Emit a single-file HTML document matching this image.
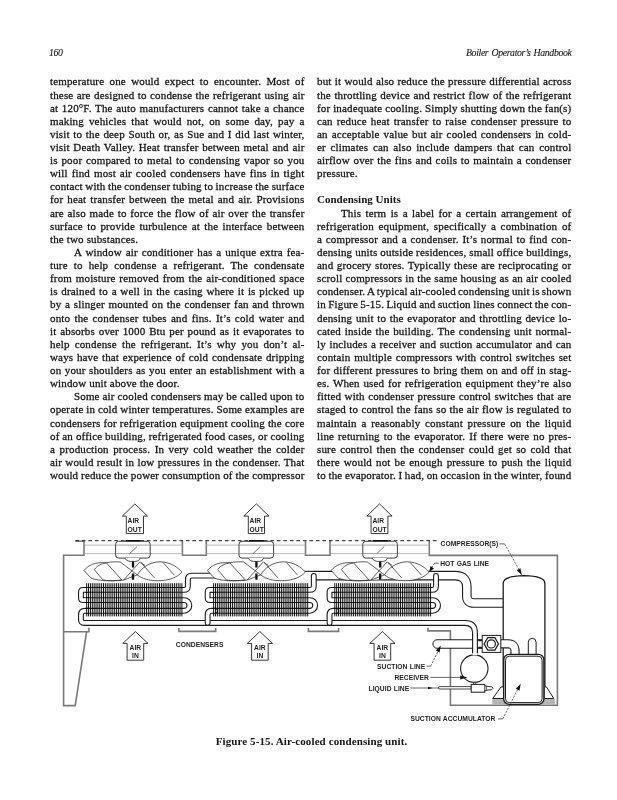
<!DOCTYPE html>
<html><head><meta charset="utf-8"><title>Boiler Operator's Handbook - 160</title>
<style>
html,body{margin:0;padding:0;background:#fff;}
body{width:617px;height:800px;position:relative;overflow:hidden;font-family:"Liberation Serif",serif;color:#151515;-webkit-text-stroke:0.28px #151515;}
.col,.hd,.cap{will-change:transform;}
.col{position:absolute;top:0;height:500px;font-size:11.0px;line-height:13.12px;letter-spacing:0.15px;}
.l{position:absolute;left:0;right:0;height:13.12px;white-space:nowrap;}
.l.b{font-weight:bold;letter-spacing:0.02px;-webkit-text-stroke:0;}
.l.i{padding-left:24px;}
.hd{position:absolute;top:46.6px;font-size:9.8px;letter-spacing:-0.36px;word-spacing:1px;-webkit-text-stroke:0.1px #151515;font-style:italic;line-height:12px;white-space:nowrap;}
.cap{position:absolute;left:2.8px;width:617px;top:735px;text-align:center;font-weight:bold;font-size:11px;letter-spacing:0.1px;-webkit-text-stroke:0;line-height:13px;white-space:nowrap;}
svg{position:absolute;left:0;top:0;}
</style></head><body>
<div class="hd" style="left:49px">160</div>
<div class="hd" style="right:46px">Boiler Operator’s Handbook</div>
<div class="col" style="left:49.7px;width:254.3px"><div class="l" style="top:75.40px;word-spacing:2.462px">temperature one would expect to encounter. Most of</div>
<div class="l" style="top:88.52px;word-spacing:0.517px">these are designed to condense the refrigerant using air</div>
<div class="l" style="top:101.64px;word-spacing:0.732px">at 120°F. The auto manufacturers cannot take a chance</div>
<div class="l" style="top:114.76px;word-spacing:2.161px">making vehicles that would not, on some day, pay a</div>
<div class="l" style="top:127.88px;word-spacing:0.758px">visit to the deep South or, as Sue and I did last winter,</div>
<div class="l" style="top:141.00px;word-spacing:0.765px">visit Death Valley. Heat transfer between metal and air</div>
<div class="l" style="top:154.12px;word-spacing:0.895px">is poor compared to metal to condensing vapor so you</div>
<div class="l" style="top:167.24px;word-spacing:1.048px">will find most air cooled condensers have fins in tight</div>
<div class="l" style="top:180.36px;word-spacing:-0.418px">contact with the condenser tubing to increase the surface</div>
<div class="l" style="top:193.48px;word-spacing:1.107px">for heat transfer between the metal and air. Provisions</div>
<div class="l" style="top:206.60px;word-spacing:0.794px">are also made to force the flow of air over the transfer</div>
<div class="l" style="top:219.72px;word-spacing:1.466px">surface to provide turbulence at the interface between</div>
<div class="l e" style="top:232.84px">the two substances.</div>
<div class="l i" style="top:245.96px;word-spacing:1.025px">A window air conditioner has a unique extra fea-</div>
<div class="l" style="top:259.08px;word-spacing:3.171px">ture to help condense a refrigerant. The condensate</div>
<div class="l" style="top:272.20px;word-spacing:0.927px">from moisture removed from the air-conditioned space</div>
<div class="l" style="top:285.32px;word-spacing:0.801px">is drained to a well in the casing where it is picked up</div>
<div class="l" style="top:298.44px;word-spacing:0.828px">by a slinger mounted on the condenser fan and thrown</div>
<div class="l" style="top:311.56px;word-spacing:1.373px">onto the condenser tubes and fins. It’s cold water and</div>
<div class="l" style="top:324.68px;word-spacing:0.928px">it absorbs over 1000 Btu per pound as it evaporates to</div>
<div class="l" style="top:337.80px;word-spacing:2.238px">help condense the refrigerant. It’s why you don’t al-</div>
<div class="l" style="top:350.92px;word-spacing:0.785px">ways have that experience of cold condensate dripping</div>
<div class="l" style="top:364.04px;word-spacing:0.590px">on your shoulders as you enter an establishment with a</div>
<div class="l e" style="top:377.16px">window unit above the door.</div>
<div class="l i" style="top:390.28px;word-spacing:0.033px">Some air cooled condensers may be called upon to</div>
<div class="l" style="top:403.40px;word-spacing:-0.065px">operate in cold winter temperatures. Some examples are</div>
<div class="l" style="top:416.52px;word-spacing:0.205px">condensers for refrigeration equipment cooling the core</div>
<div class="l" style="top:429.64px;word-spacing:-0.030px">of an office building, refrigerated food cases, or cooling</div>
<div class="l" style="top:442.76px;word-spacing:1.605px">a production process. In very cold weather the colder</div>
<div class="l" style="top:455.88px;word-spacing:0.342px">air would result in low pressures in the condenser. That</div>
<div class="l" style="top:469.00px;word-spacing:-0.070px">would reduce the power consumption of the compressor</div></div>
<div class="col" style="left:316.7px;width:254.2px"><div class="l" style="top:75.40px;word-spacing:0.356px">but it would also reduce the pressure differential across</div>
<div class="l" style="top:88.52px;word-spacing:0.620px">the throttling device and restrict flow of the refrigerant</div>
<div class="l" style="top:101.64px;word-spacing:-0.019px">for inadequate cooling. Simply shutting down the fan(s)</div>
<div class="l" style="top:114.76px;word-spacing:1.061px">can reduce heat transfer to raise condenser pressure to</div>
<div class="l" style="top:127.88px;word-spacing:1.079px">an acceptable value but air cooled condensers in cold-</div>
<div class="l" style="top:141.00px;word-spacing:1.706px">er climates can also include dampers that can control</div>
<div class="l" style="top:154.12px;word-spacing:0.768px">airflow over the fins and coils to maintain a condenser</div>
<div class="l e" style="top:167.24px">pressure.</div>
<div class="l e" style="top:180.36px"></div>
<div class="l e b" style="top:193.48px">Condensing Units</div>
<div class="l i" style="top:206.60px;word-spacing:1.464px">This term is a label for a certain arrangement of</div>
<div class="l" style="top:219.72px;word-spacing:1.723px">refrigeration equipment, specifically a combination of</div>
<div class="l" style="top:232.84px;word-spacing:0.818px">a compressor and a condenser. It’s normal to find con-</div>
<div class="l" style="top:245.96px;word-spacing:0.061px">densing units outside residences, small office buildings,</div>
<div class="l" style="top:259.08px;word-spacing:0.628px">and grocery stores. Typically these are reciprocating or</div>
<div class="l" style="top:272.20px;word-spacing:0.223px">scroll compressors in the same housing as an air cooled</div>
<div class="l" style="top:285.32px;word-spacing:-0.620px">condenser. A typical air-cooled condensing unit is shown</div>
<div class="l" style="top:298.44px;word-spacing:-0.456px">in Figure 5-15. Liquid and suction lines connect the con-</div>
<div class="l" style="top:311.56px;word-spacing:0.729px">densing unit to the evaporator and throttling device lo-</div>
<div class="l" style="top:324.68px;word-spacing:0.818px">cated inside the building. The condensing unit normal-</div>
<div class="l" style="top:337.80px;word-spacing:0.696px">ly includes a receiver and suction accumulator and can</div>
<div class="l" style="top:350.92px;word-spacing:0.816px">contain multiple compressors with control switches set</div>
<div class="l" style="top:364.04px;word-spacing:0.365px">for different pressures to bring them on and off in stag-</div>
<div class="l" style="top:377.16px;word-spacing:0.822px">es. When used for refrigeration equipment they’re also</div>
<div class="l" style="top:390.28px;word-spacing:0.530px">fitted with condenser pressure control switches that are</div>
<div class="l" style="top:403.40px;word-spacing:0.364px">staged to control the fans so the air flow is regulated to</div>
<div class="l" style="top:416.52px;word-spacing:1.816px">maintain a reasonably constant pressure on the liquid</div>
<div class="l" style="top:429.64px;word-spacing:1.060px">line returning to the evaporator. If there were no pres-</div>
<div class="l" style="top:442.76px;word-spacing:1.327px">sure control then the condenser could get so cold that</div>
<div class="l" style="top:455.88px;word-spacing:1.138px">there would not be enough pressure to push the liquid</div>
<div class="l" style="top:469.00px;word-spacing:-0.287px">to the evaporator. I had, on occasion in the winter, found</div></div>
<svg width="617" height="800" viewBox="0 0 617 800">
<style>.t{font-family:"Liberation Sans",sans-serif;font-size:6.7px;font-weight:bold;fill:#222;word-spacing:0.4px;letter-spacing:0.04px}</style>
<g fill="none" stroke="#7a7a7a" stroke-width="1.6">
<path d="M75.4 541.2H84V555.3H63.6V705.6H75.2L86.6 631.7"/>
<path d="M63.6 631.7H88.9V627.8"/>
<path d="M182.4 540.7V555.2H206.3V540.7"/>
<path d="M305.5 540.7V555.2H330V540.7"/>
<path d="M429.3 540.7V555.4H557.4V705.2H450.4V630.9H428V627.8"/>
<path d="M178.9 628V631.4H215.7V628"/>
<path d="M308.4 628V631.4H338.6V628"/>
</g>
<g fill="none" stroke="#a8a8a8" stroke-width="0.8">
<path d="M84 545.1H182.4M84 553.6H182.4"/>
<path d="M206.3 545.1H305.5M206.3 553.6H305.5"/>
<path d="M330 545.1H429.3M330 553.6H429.3"/>
</g>
<path d="M75.4 540.7H437" fill="none" stroke="#1c1c1c" stroke-width="1" stroke-dasharray="3.6 2.9"/>
<path d="M304 571.35H315" stroke="#1c1c1c" stroke-width="1.1" fill="none"/>
<path d="M314 575.6H455 Q466.8 575.6 466.8 587 V596 Q466.8 603 474 603 H503" fill="none" stroke="#1c1c1c" stroke-width="9.6" stroke-linecap="butt" stroke-linejoin="round"/>
<path d="M314 575.6H455 Q466.8 575.6 466.8 587 V596 Q466.8 603 474 603 H503" fill="none" stroke="#fff" stroke-width="7.40" stroke-linecap="butt" stroke-linejoin="round"/>
<path d="M85.3 589.9H183.9Q187.9 589.9 187.9 585.9V579.4Q187.9 575.6 191.70000000000002 575.6H296" fill="none" stroke="#1c1c1c" stroke-width="5.9" stroke-linecap="butt" stroke-linejoin="round"/>
<path d="M85.3 589.9H183.9Q187.9 589.9 187.9 585.9V579.4Q187.9 575.6 191.70000000000002 575.6H296" fill="none" stroke="#fff" stroke-width="3.70" stroke-linecap="butt" stroke-linejoin="round"/>
<path d="M88.3 589.9H83.15Q80.95 589.9 80.95 592.1V597.9Q80.95 600.1 83.15 600.1H88.3" fill="none" stroke="#1c1c1c" stroke-width="5.9" stroke-linecap="butt" stroke-linejoin="round"/>
<path d="M88.3 589.9H83.15Q80.95 589.9 80.95 592.1V597.9Q80.95 600.1 83.15 600.1H88.3" fill="none" stroke="#fff" stroke-width="3.70" stroke-linecap="butt" stroke-linejoin="round"/>
<path d="M86.3 600.1H184.0A5.349999999999966 5.349999999999966 0 0 1 184.0 610.8H86.3" fill="none" stroke="#1c1c1c" stroke-width="5.9" stroke-linecap="butt" stroke-linejoin="round"/>
<path d="M86.3 600.1H184.0A5.349999999999966 5.349999999999966 0 0 1 184.0 610.8H86.3" fill="none" stroke="#fff" stroke-width="3.70" stroke-linecap="butt" stroke-linejoin="round"/>
<path d="M88.3 610.8H84.95Q80.95 610.8 80.95 614.8V619.45Q80.95 622.95 84.45 622.95H465Q475 622.95 475 633V656" fill="none" stroke="#1c1c1c" stroke-width="5.9" stroke-linecap="butt" stroke-linejoin="round"/>
<path d="M88.3 610.8H84.95Q80.95 610.8 80.95 614.8V619.45Q80.95 622.95 84.45 622.95H465Q475 622.95 475 633V656" fill="none" stroke="#fff" stroke-width="3.70" stroke-linecap="butt" stroke-linejoin="round"/>
<path d="M86.70 583.2V616.4M88.57 583.2V616.4M90.43 583.2V616.4M92.30 583.2V616.4M94.17 583.2V616.4M96.03 583.2V616.4M97.90 583.2V616.4M99.77 583.2V616.4M101.63 583.2V616.4M103.50 583.2V616.4M105.37 583.2V616.4M107.23 583.2V616.4M109.10 583.2V616.4M110.97 583.2V616.4M112.83 583.2V616.4M114.70 583.2V616.4M116.57 583.2V616.4M118.43 583.2V616.4M120.30 583.2V616.4M122.17 583.2V616.4M124.03 583.2V616.4M125.90 583.2V616.4M127.77 583.2V616.4M129.63 583.2V616.4M131.50 583.2V616.4M133.37 583.2V616.4M135.23 583.2V616.4M137.10 583.2V616.4M138.97 583.2V616.4M140.83 583.2V616.4M142.70 583.2V616.4M144.57 583.2V616.4M146.43 583.2V616.4M148.30 583.2V616.4M150.17 583.2V616.4M152.03 583.2V616.4M153.90 583.2V616.4M155.77 583.2V616.4M157.63 583.2V616.4M159.50 583.2V616.4M161.37 583.2V616.4M163.23 583.2V616.4M165.10 583.2V616.4M166.97 583.2V616.4M168.83 583.2V616.4M170.70 583.2V616.4M172.57 583.2V616.4M174.43 583.2V616.4M176.30 583.2V616.4M178.17 583.2V616.4M180.03 583.2V616.4M181.90 583.2V616.4" stroke="#0a0a0a" stroke-width="0.98" fill="none"/>
<path d="M212.2 589.9H309.8Q313.8 589.9 313.8 585.9V575.9" fill="none" stroke="#1c1c1c" stroke-width="5.9" stroke-linecap="round" stroke-linejoin="round"/>
<path d="M212.2 589.9H309.8Q313.8 589.9 313.8 585.9V575.9" fill="none" stroke="#fff" stroke-width="3.70" stroke-linecap="round" stroke-linejoin="round"/>
<path d="M215.2 589.9H209.84999999999997Q207.64999999999998 589.9 207.64999999999998 592.1V597.9Q207.64999999999998 600.1 209.84999999999997 600.1H215.2" fill="none" stroke="#1c1c1c" stroke-width="5.9" stroke-linecap="butt" stroke-linejoin="round"/>
<path d="M215.2 589.9H209.84999999999997Q207.64999999999998 589.9 207.64999999999998 592.1V597.9Q207.64999999999998 600.1 209.84999999999997 600.1H215.2" fill="none" stroke="#fff" stroke-width="3.70" stroke-linecap="butt" stroke-linejoin="round"/>
<path d="M213.2 600.1H309.8A5.349999999999966 5.349999999999966 0 0 1 309.8 610.8H213.2" fill="none" stroke="#1c1c1c" stroke-width="5.9" stroke-linecap="butt" stroke-linejoin="round"/>
<path d="M213.2 600.1H309.8A5.349999999999966 5.349999999999966 0 0 1 309.8 610.8H213.2" fill="none" stroke="#fff" stroke-width="3.70" stroke-linecap="butt" stroke-linejoin="round"/>
<path d="M215.2 610.8H211.64999999999998Q207.64999999999998 610.8 207.64999999999998 614.8V622.85" fill="none" stroke="#1c1c1c" stroke-width="5.9" stroke-linecap="round" stroke-linejoin="round"/>
<path d="M215.2 610.8H211.64999999999998Q207.64999999999998 610.8 207.64999999999998 614.8V622.85" fill="none" stroke="#fff" stroke-width="3.70" stroke-linecap="round" stroke-linejoin="round"/>
<path d="M213.60 583.2V616.4M215.48 583.2V616.4M217.36 583.2V616.4M219.25 583.2V616.4M221.13 583.2V616.4M223.01 583.2V616.4M224.89 583.2V616.4M226.77 583.2V616.4M228.66 583.2V616.4M230.54 583.2V616.4M232.42 583.2V616.4M234.30 583.2V616.4M236.18 583.2V616.4M238.07 583.2V616.4M239.95 583.2V616.4M241.83 583.2V616.4M243.71 583.2V616.4M245.59 583.2V616.4M247.48 583.2V616.4M249.36 583.2V616.4M251.24 583.2V616.4M253.12 583.2V616.4M255.00 583.2V616.4M256.89 583.2V616.4M258.77 583.2V616.4M260.65 583.2V616.4M262.53 583.2V616.4M264.41 583.2V616.4M266.30 583.2V616.4M268.18 583.2V616.4M270.06 583.2V616.4M271.94 583.2V616.4M273.82 583.2V616.4M275.71 583.2V616.4M277.59 583.2V616.4M279.47 583.2V616.4M281.35 583.2V616.4M283.23 583.2V616.4M285.12 583.2V616.4M287.00 583.2V616.4M288.88 583.2V616.4M290.76 583.2V616.4M292.64 583.2V616.4M294.53 583.2V616.4M296.41 583.2V616.4M298.29 583.2V616.4M300.17 583.2V616.4M302.05 583.2V616.4M303.94 583.2V616.4M305.82 583.2V616.4M307.70 583.2V616.4" stroke="#0a0a0a" stroke-width="0.98" fill="none"/>
<path d="M333.4 589.9H432.0Q436.0 589.9 436.0 585.9V575.9" fill="none" stroke="#1c1c1c" stroke-width="5.9" stroke-linecap="round" stroke-linejoin="round"/>
<path d="M333.4 589.9H432.0Q436.0 589.9 436.0 585.9V575.9" fill="none" stroke="#fff" stroke-width="3.70" stroke-linecap="round" stroke-linejoin="round"/>
<path d="M336.4 589.9H331.75Q329.55 589.9 329.55 592.1V597.9Q329.55 600.1 331.75 600.1H336.4" fill="none" stroke="#1c1c1c" stroke-width="5.9" stroke-linecap="butt" stroke-linejoin="round"/>
<path d="M336.4 589.9H331.75Q329.55 589.9 329.55 592.1V597.9Q329.55 600.1 331.75 600.1H336.4" fill="none" stroke="#fff" stroke-width="3.70" stroke-linecap="butt" stroke-linejoin="round"/>
<path d="M334.4 600.1H432.7A5.349999999999966 5.349999999999966 0 0 1 432.7 610.8H334.4" fill="none" stroke="#1c1c1c" stroke-width="5.9" stroke-linecap="butt" stroke-linejoin="round"/>
<path d="M334.4 600.1H432.7A5.349999999999966 5.349999999999966 0 0 1 432.7 610.8H334.4" fill="none" stroke="#fff" stroke-width="3.70" stroke-linecap="butt" stroke-linejoin="round"/>
<path d="M336.4 610.8H333.55Q329.55 610.8 329.55 614.8V622.85" fill="none" stroke="#1c1c1c" stroke-width="5.9" stroke-linecap="round" stroke-linejoin="round"/>
<path d="M336.4 610.8H333.55Q329.55 610.8 329.55 614.8V622.85" fill="none" stroke="#fff" stroke-width="3.70" stroke-linecap="round" stroke-linejoin="round"/>
<path d="M334.80 583.2V616.4M336.68 583.2V616.4M338.56 583.2V616.4M340.44 583.2V616.4M342.31 583.2V616.4M344.19 583.2V616.4M346.07 583.2V616.4M347.95 583.2V616.4M349.83 583.2V616.4M351.71 583.2V616.4M353.58 583.2V616.4M355.46 583.2V616.4M357.34 583.2V616.4M359.22 583.2V616.4M361.10 583.2V616.4M362.98 583.2V616.4M364.85 583.2V616.4M366.73 583.2V616.4M368.61 583.2V616.4M370.49 583.2V616.4M372.37 583.2V616.4M374.25 583.2V616.4M376.13 583.2V616.4M378.00 583.2V616.4M379.88 583.2V616.4M381.76 583.2V616.4M383.64 583.2V616.4M385.52 583.2V616.4M387.40 583.2V616.4M389.27 583.2V616.4M391.15 583.2V616.4M393.03 583.2V616.4M394.91 583.2V616.4M396.79 583.2V616.4M398.67 583.2V616.4M400.55 583.2V616.4M402.42 583.2V616.4M404.30 583.2V616.4M406.18 583.2V616.4M408.06 583.2V616.4M409.94 583.2V616.4M411.82 583.2V616.4M413.69 583.2V616.4M415.57 583.2V616.4M417.45 583.2V616.4M419.33 583.2V616.4M421.21 583.2V616.4M423.09 583.2V616.4M424.96 583.2V616.4M426.84 583.2V616.4M428.72 583.2V616.4M430.60 583.2V616.4" stroke="#0a0a0a" stroke-width="0.98" fill="none"/>
<g transform="translate(133 570.5)">
<g fill="#fff" stroke="none"><path d="M-49 0C-45 -5 -38 -9 -26.6 -7.6L-11.2 9.4C-22 10.9 -34 10.6 -42 7.6Z"/><path d="M-38.7 -0.8C-36 -5.5 -28 -9.4 -12.9 -8.6L4.3 4.4 -9.4 9.6C-18 10.6 -25 10.4 -30.1 9.4Z"/><path d="M4.3 4.4C8 -2 16 -8.6 27 -8.7C38 -8.4 45 -3 49 1.6C44 7 36 10.2 25 10.2C16 10.2 9 8.2 4.3 4.4Z"/><path d="M6.9 -8.6L-9.4 9.6L21.5 7.4L7.7 -8.2Z"/></g>
<g fill="none" stroke="#2a2a2a" stroke-width="0.75"><path d="M-49 0C-45 -5 -38 -9 -26.6 -7.6L-11.2 9.4C-22 10.9 -34 10.6 -42 7.6Z"/><path d="M-38.7 -0.8C-36 -5.5 -28 -9.4 -12.9 -8.6L4.3 4.4 -9.4 9.6C-18 10.6 -25 10.4 -30.1 9.4Z"/><path d="M4.3 4.4C8 -2 16 -8.6 27 -8.7C38 -8.4 45 -3 49 1.6C44 7 36 10.2 25 10.2C16 10.2 9 8.2 4.3 4.4Z"/><path d="M6.9 -8.6L-9.4 9.6M7.7 -8.2L21.5 7.4M30.1 -8L41.2 4.6M7.3 -8.4L12 -5"/></g>
</g>
<path d="M124.4 0" />
<rect x="115.6" y="541.3" width="34.6" height="16.8" rx="3" fill="#fff" stroke="#2a2a2a" stroke-width="0.9"/>
<path d="M115.6 545.1H150.2M115.6 553.6H150.2" stroke="#8a8a8a" stroke-width="0.8" fill="none"/>
<path d="M129.6 553.6L137 546.6" stroke="#444" stroke-width="0.8" fill="none"/>
<path d="M125 558.1Q126 561.3 130 561.4H136Q139.6 561.3 140 558.1" fill="#fff" stroke="#2a2a2a" stroke-width="0.8"/>
<path d="M133 561.6V567.4M133 573.4V579.8" stroke="#111" stroke-width="2.3" fill="none"/>
<path d="M125.5 540.7H140.5" stroke="#111" stroke-width="1.4" fill="none"/>
<g transform="translate(256.4 570.5)">
<g fill="#fff" stroke="none"><path d="M-49 0C-45 -5 -38 -9 -26.6 -7.6L-11.2 9.4C-22 10.9 -34 10.6 -42 7.6Z"/><path d="M-38.7 -0.8C-36 -5.5 -28 -9.4 -12.9 -8.6L4.3 4.4 -9.4 9.6C-18 10.6 -25 10.4 -30.1 9.4Z"/><path d="M4.3 4.4C8 -2 16 -8.6 27 -8.7C38 -8.4 45 -3 49 1.6C44 7 36 10.2 25 10.2C16 10.2 9 8.2 4.3 4.4Z"/><path d="M6.9 -8.6L-9.4 9.6L21.5 7.4L7.7 -8.2Z"/></g>
<g fill="none" stroke="#2a2a2a" stroke-width="0.75"><path d="M-49 0C-45 -5 -38 -9 -26.6 -7.6L-11.2 9.4C-22 10.9 -34 10.6 -42 7.6Z"/><path d="M-38.7 -0.8C-36 -5.5 -28 -9.4 -12.9 -8.6L4.3 4.4 -9.4 9.6C-18 10.6 -25 10.4 -30.1 9.4Z"/><path d="M4.3 4.4C8 -2 16 -8.6 27 -8.7C38 -8.4 45 -3 49 1.6C44 7 36 10.2 25 10.2C16 10.2 9 8.2 4.3 4.4Z"/><path d="M6.9 -8.6L-9.4 9.6M7.7 -8.2L21.5 7.4M30.1 -8L41.2 4.6M7.3 -8.4L12 -5"/></g>
</g>
<path d="M247.79999999999998 0" />
<rect x="238.99999999999997" y="541.3" width="34.6" height="16.8" rx="3" fill="#fff" stroke="#2a2a2a" stroke-width="0.9"/>
<path d="M238.99999999999997 545.1H273.59999999999997M238.99999999999997 553.6H273.59999999999997" stroke="#8a8a8a" stroke-width="0.8" fill="none"/>
<path d="M252.99999999999997 553.6L260.4 546.6" stroke="#444" stroke-width="0.8" fill="none"/>
<path d="M248.39999999999998 558.1Q249.39999999999998 561.3 253.39999999999998 561.4H259.4Q263.0 561.3 263.4 558.1" fill="#fff" stroke="#2a2a2a" stroke-width="0.8"/>
<path d="M256.4 561.6V567.4M256.4 573.4V579.8" stroke="#111" stroke-width="2.3" fill="none"/>
<path d="M248.89999999999998 540.7H263.9" stroke="#111" stroke-width="1.4" fill="none"/>
<g transform="translate(380.2 570.5)">
<g fill="#fff" stroke="none"><path d="M-49 0C-45 -5 -38 -9 -26.6 -7.6L-11.2 9.4C-22 10.9 -34 10.6 -42 7.6Z"/><path d="M-38.7 -0.8C-36 -5.5 -28 -9.4 -12.9 -8.6L4.3 4.4 -9.4 9.6C-18 10.6 -25 10.4 -30.1 9.4Z"/><path d="M4.3 4.4C8 -2 16 -8.6 27 -8.7C38 -8.4 45 -3 49 1.6C44 7 36 10.2 25 10.2C16 10.2 9 8.2 4.3 4.4Z"/><path d="M6.9 -8.6L-9.4 9.6L21.5 7.4L7.7 -8.2Z"/></g>
<g fill="none" stroke="#2a2a2a" stroke-width="0.75"><path d="M-49 0C-45 -5 -38 -9 -26.6 -7.6L-11.2 9.4C-22 10.9 -34 10.6 -42 7.6Z"/><path d="M-38.7 -0.8C-36 -5.5 -28 -9.4 -12.9 -8.6L4.3 4.4 -9.4 9.6C-18 10.6 -25 10.4 -30.1 9.4Z"/><path d="M4.3 4.4C8 -2 16 -8.6 27 -8.7C38 -8.4 45 -3 49 1.6C44 7 36 10.2 25 10.2C16 10.2 9 8.2 4.3 4.4Z"/><path d="M6.9 -8.6L-9.4 9.6M7.7 -8.2L21.5 7.4M30.1 -8L41.2 4.6M7.3 -8.4L12 -5"/></g>
</g>
<path d="M371.6 0" />
<rect x="362.8" y="541.3" width="34.6" height="16.8" rx="3" fill="#fff" stroke="#2a2a2a" stroke-width="0.9"/>
<path d="M362.8 545.1H397.4M362.8 553.6H397.4" stroke="#8a8a8a" stroke-width="0.8" fill="none"/>
<path d="M376.8 553.6L384.2 546.6" stroke="#444" stroke-width="0.8" fill="none"/>
<path d="M372.2 558.1Q373.2 561.3 377.2 561.4H383.2Q386.8 561.3 387.2 558.1" fill="#fff" stroke="#2a2a2a" stroke-width="0.8"/>
<path d="M380.2 561.6V567.4M380.2 573.4V579.8" stroke="#111" stroke-width="2.3" fill="none"/>
<path d="M372.7 540.7H387.7" stroke="#111" stroke-width="1.4" fill="none"/>
<path d="M503.2 699.2V583.5Q503.2 576 524 575.7Q544.9 576 544.9 583.5V699.2" fill="#fff" stroke="#1c1c1c" stroke-width="1.3"/>
<rect x="492.3" y="699.1" width="62.5" height="5.7" fill="#b4b4b4"/>
<path d="M503.2 686.9H501.1L492.7 698.5H503.2M544.9 686.9H546.4L553.8 698.5H544.9" fill="#fff" stroke="#1c1c1c" stroke-width="1"/>
<path d="M437 644H482" fill="none" stroke="#1c1c1c" stroke-width="9.6" stroke-linecap="butt" stroke-linejoin="round"/>
<path d="M437 644H482" fill="none" stroke="#fff" stroke-width="7.40" stroke-linecap="butt" stroke-linejoin="round"/>
<path d="M437.2 639.7A4.3 4.3 0 0 0 437.2 648.3" fill="#fff" stroke="#1c1c1c" stroke-width="1"/>
<path d="M475 633V656" fill="none" stroke="#1c1c1c" stroke-width="5.9" stroke-linecap="butt" stroke-linejoin="round"/>
<path d="M475 633V656" fill="none" stroke="#fff" stroke-width="3.70" stroke-linecap="butt" stroke-linejoin="round"/>
<path d="M478.2 640.4H482M478.2 647.6H482" stroke="#1c1c1c" stroke-width="1.6" fill="none"/>
<path d="M500.8 643.8H508Q515 643.8 515 651V655" fill="none" stroke="#1c1c1c" stroke-width="9.2" stroke-linecap="butt" stroke-linejoin="round"/>
<path d="M500.8 643.8H508Q515 643.8 515 651V655" fill="none" stroke="#fff" stroke-width="7.00" stroke-linecap="butt" stroke-linejoin="round"/>
<path d="M528.3 654.5V642.2A3.9 3.9 0 0 1 536.1 642.2V654.5" fill="#fff" stroke="#1c1c1c" stroke-width="1"/>
<rect x="482.2" y="635.4" width="18.6" height="17" fill="#fff" stroke="#1c1c1c" stroke-width="1"/>
<polygon points="498.5,643.9 494.9,650.1 487.7,650.1 484.1,643.9 487.7,637.7 494.9,637.7" fill="#fff" stroke="#1c1c1c" stroke-width="1.2"/>
<circle cx="491.3" cy="643.9" r="4.1" fill="#fff" stroke="#1c1c1c" stroke-width="1.2"/>
<rect x="503.7" y="654.4" width="40.2" height="50" rx="5.5" fill="#fff" stroke="#1c1c1c" stroke-width="1.4"/>
<rect x="505.5" y="656.2" width="36.6" height="46.4" rx="4" fill="#fff" stroke="#1c1c1c" stroke-width="1.0"/>
<circle cx="474.3" cy="668.6" r="13.7" fill="#fff" stroke="#1c1c1c" stroke-width="1.1"/>
<path d="M472.3 655.2V653H477.7V655.2" fill="#fff" stroke="none"/>
<path d="M473.6 682.3V684.4H475.8V682.3" fill="none" stroke="#1c1c1c" stroke-width="0.8"/>
<path d="M439.6 686.6H471.2V689H439.6A1.2 1.2 0 0 1 439.6 686.6Z" fill="#fff" stroke="#1c1c1c" stroke-width="0.8"/>
<rect x="471.2" y="684.4" width="13.5" height="7.8" fill="#fff" stroke="#1c1c1c" stroke-width="1"/>
<path d="M484.7 685.8H486.2V690.7H484.7M486.2 686.3L491.8 686.8Q494.6 688.2 491.8 689.7L486.2 690.2" fill="#fff" stroke="#1c1c1c" stroke-width="0.9"/>
<path d="M134.9 503.9L147.5 516.1H143.5V533.6H126.30000000000001V516.1H122.30000000000001Z" fill="#fff" stroke="#222" stroke-width="0.9"/>
<text class="t" x="127.6" y="523.0">AIR</text>
<text class="t" x="127.6" y="531.5">OUT</text>
<path d="M256.4 503.9L269.0 516.1H264.5V533.6H248.29999999999998V516.1H243.79999999999998Z" fill="#fff" stroke="#222" stroke-width="0.9"/>
<text class="t" x="249.6" y="523.0">AIR</text>
<text class="t" x="249.6" y="531.5">OUT</text>
<path d="M379.5 503.9L392.1 516.1H387.9V533.6H371.1V516.1H366.9Z" fill="#fff" stroke="#222" stroke-width="0.9"/>
<text class="t" x="372.4" y="523.0">AIR</text>
<text class="t" x="372.4" y="531.5">OUT</text>
<path d="M135.4 631.6L148.0 643.4H143.70000000000002V660.2H127.10000000000001V643.4H122.80000000000001Z" fill="#fff" stroke="#222" stroke-width="0.9"/>
<text class="t" x="135.4" y="649.7" text-anchor="middle">AIR</text>
<text class="t" x="135.4" y="657.7" text-anchor="middle">IN</text>
<path d="M259.9 631.6L272.5 643.4H268.2V660.2H251.59999999999997V643.4H247.29999999999998Z" fill="#fff" stroke="#222" stroke-width="0.9"/>
<text class="t" x="259.9" y="649.7" text-anchor="middle">AIR</text>
<text class="t" x="259.9" y="657.7" text-anchor="middle">IN</text>
<path d="M382.4 631.6L395.0 643.4H390.7V660.2H374.09999999999997V643.4H369.79999999999995Z" fill="#fff" stroke="#222" stroke-width="0.9"/>
<text class="t" x="382.4" y="649.7" text-anchor="middle">AIR</text>
<text class="t" x="382.4" y="657.7" text-anchor="middle">IN</text>
<text class="t" x="175.8" y="646.8">CONDENSERS</text>
<text class="t" x="440.6" y="546.4">COMPRESSOR(S)</text>
<text class="t" x="440.2" y="565.7">HOT GAS LINE</text>
<text class="t" x="425.2" y="668.6" text-anchor="end">SUCTION LINE</text>
<text class="t" x="429" y="679.7" text-anchor="end">RECEIVER</text>
<text class="t" x="409.2" y="691.1" text-anchor="end">LIQUID LINE</text>
<text class="t" x="410.4" y="721.2">SUCTION ACCUMULATOR</text>
<g fill="none" stroke="#444" stroke-width="0.8">
<path d="M499.4 543.9H504.6"/><path d="M504.6 543.9L520.6 572.5" stroke-dasharray="2.2 1.2"/>
<path d="M438.8 563.2H434.6"/><path d="M434.6 563.2L430.4 569.6" stroke-dasharray="2.2 1.2"/>
<path d="M426.6 666.2H430.6"/><path d="M430.6 666.2L439.6 648.2" stroke-dasharray="2.2 1.2"/>
<path d="M430.2 677.4H461"/>
<path d="M410.4 688H439.4"/>
<path d="M498 718.9H502.8"/><path d="M502.8 718.9L518.6 687.6" stroke-dasharray="2.2 1.2"/>
</g>
<path d="M521.9 575.2L516.7 570.3L520.4 568.2Z" fill="#111"/>
<path d="M429.2 571.9L430.5 566.1L434.0 568.5Z" fill="#111"/>
<path d="M440.8 645.4L439.6 652.4L435.9 650.5Z" fill="#111"/>
<path d="M467.6 677.6L460.2 679.6L460.2 675.6Z" fill="#111"/>
<path d="M432.6 688.0L428.1 689.3L428.1 686.7Z" fill="#111"/>
<path d="M520.7 683.7L519.5 690.7L515.8 688.8Z" fill="#111"/>
</svg>
<div class="cap">Figure 5-15. Air-cooled condensing unit.</div>
</body></html>
